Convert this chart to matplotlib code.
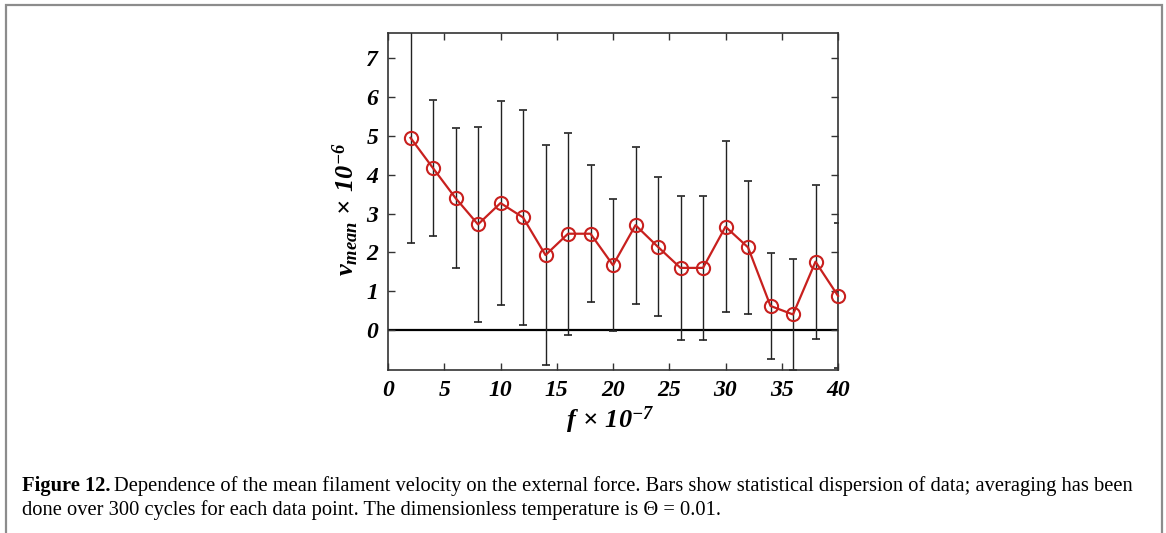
import matplotlib
matplotlib.use("Agg")
import matplotlib.pyplot as plt
from matplotlib.patches import Rectangle
import numpy as np

# ---- data ----
force = [2, 4, 6, 8, 10, 12, 14, 16, 18, 20, 22, 24, 26, 28, 30, 32, 34, 36, 38, 40]
v_mean = [4.95, 4.17, 3.40, 2.72, 3.27, 2.90, 1.93, 2.48, 2.48, 1.67,
          2.70, 2.14, 1.60, 1.60, 2.66, 2.13, 0.62, 0.40, 1.76, 0.88]
v_err = [2.72, 1.75, 1.80, 2.51, 2.63, 2.76, 2.83, 2.60, 1.77, 1.70,
         2.02, 1.79, 1.85, 1.86, 2.20, 1.71, 1.37, 1.42, 1.98, 1.87]
xticks = [0, 5, 10, 15, 20, 25, 30, 35, 40]
yticks = [0, 1, 2, 3, 4, 5, 6, 7]

plt.rcParams['mathtext.fontset'] = 'custom'
plt.rcParams['mathtext.rm'] = 'Liberation Serif:bold:italic'
plt.rcParams['mathtext.it'] = 'Liberation Serif:bold:italic'
plt.rcParams['mathtext.bf'] = 'Liberation Serif:bold:italic'

W, H = 1166, 533
fig = plt.figure(figsize=(W / 100, H / 100), dpi=100)

# page frame
fig.patches.append(Rectangle((6 / W, -0.05), (1162 - 6) / W, (H - 5) / H + 0.05,
                             transform=fig.transFigure, fill=False,
                             edgecolor='#8c8c8c', linewidth=1.6))

ax = fig.add_axes([388 / W, 1 - 370 / H, (838 - 388) / W, (370 - 33) / H])
ax.axhline(0, color='black', linewidth=1.6, zorder=1)
ax.errorbar(force, v_mean, yerr=v_err, fmt='none', ecolor='#222222',
            elinewidth=1.0, capsize=3.2, capthick=1.2, zorder=2)
ax.plot(force, v_mean, color='#c8201e', linewidth=1.6, marker='o',
        markersize=9.5, markerfacecolor='none', markeredgecolor='#c8201e',
        markeredgewidth=1.5, zorder=3, clip_on=False)

ax.set_xlim(0, 40)
ax.set_ylim(-1.03, 7.65)
ax.set_xticks(xticks)
ax.set_yticks(yticks)
ax.tick_params(direction='in', length=5, width=1, top=True, right=True,
               labeltop=False, labelright=False, pad=7, color='#333333')
for lab in ax.get_xticklabels() + ax.get_yticklabels():
    lab.set_fontfamily('Liberation Serif')
    lab.set_fontweight('bold')
    lab.set_fontstyle('italic')
    lab.set_fontsize(17)
for s in ax.spines.values():
    s.set_linewidth(1.2)
    s.set_color('#333333')

fig.text(346 / W, 1 - 209 / H, r'$v_{mean}\,\times\,10^{-6}$', rotation=90,
         ha='center', va='center', fontsize=19)
fig.text(610 / W, 1 - 420 / H, r'$f\,\times\,10^{-7}$', ha='center',
         va='center', fontsize=19)

# caption
cap_font = 'Liberation Serif'
cap_size = 14.8
t1 = fig.text(22 / W, 1 - 491 / H, 'Figure 12.', fontfamily=cap_font,
              fontweight='bold', fontsize=cap_size, ha='left', va='baseline')
fig.canvas.draw()
bb = t1.get_window_extent()
fig.text((bb.x1 + 4) / W, 1 - 491 / H,
         'Dependence of the mean filament velocity on the external force. '
         'Bars show statistical dispersion of data; averaging has been',
         fontfamily=cap_font, fontsize=cap_size, ha='left', va='baseline')
fig.text(22 / W, 1 - 515 / H,
         'done over 300 cycles for each data point. The dimensionless '
         'temperature is \u0398 = 0.01.',
         fontfamily=cap_font, fontsize=cap_size, ha='left', va='baseline')

fig.savefig('out.png', dpi=100)
